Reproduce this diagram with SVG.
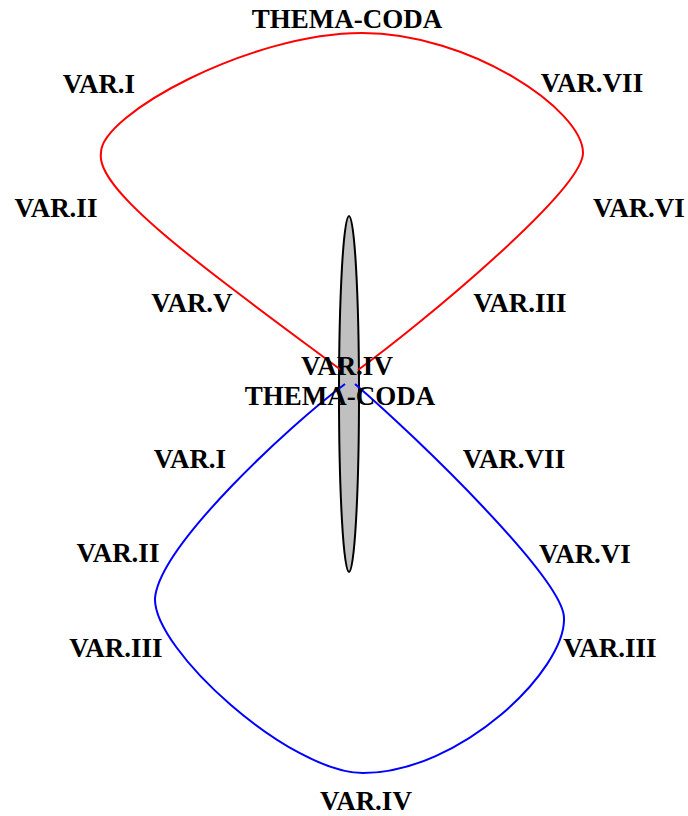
<svg xmlns="http://www.w3.org/2000/svg" width="688" height="816" viewBox="0 0 688 816">
<style>
text{font-family:"Liberation Serif","Times New Roman",serif;font-weight:bold;font-size:27px;fill:#000;text-anchor:middle}
.edge{fill:none;stroke-width:2}
</style>
<rect width="688" height="816" fill="#fff"/>
<g id="node-center">
<ellipse cx="349" cy="394" rx="10" ry="178" fill="#c0c0c0" stroke="#000" stroke-width="2"/>
</g>
<g id="connectors">
<path class="edge" stroke="#ff0000" d="M341,370 C200,265 95,190 101,153 C100,115 250,33 362,33 C470,33 583,110 583,153 C583,190 420,325 358,370"/>
<path class="edge" stroke="#0000ff" d="M345,384 C290,425 160,545 155,598 C153,650 290,773 363,773 C460,773 566,670 564,618 C564,580 420,440 355,384"/>
</g>
<g id="labels">
<text x="347" y="28">THEMA-CODA</text>
<text x="99" y="93">VAR.I</text>
<text x="592" y="92">VAR.VII</text>
<text x="56" y="217">VAR.II</text>
<text x="639" y="217">VAR.VI</text>
<text x="192" y="312">VAR.V</text>
<text x="520" y="312">VAR.III</text>
<text x="347" y="375">VAR.IV</text>
<text x="340" y="405">THEMA-CODA</text>
<text x="190" y="468">VAR.I</text>
<text x="514" y="468">VAR.VII</text>
<text x="118" y="562">VAR.II</text>
<text x="585" y="563">VAR.VI</text>
<text x="116" y="657">VAR.III</text>
<text x="610" y="657">VAR.III</text>
<text x="366" y="810">VAR.IV</text>
</g>
</svg>
